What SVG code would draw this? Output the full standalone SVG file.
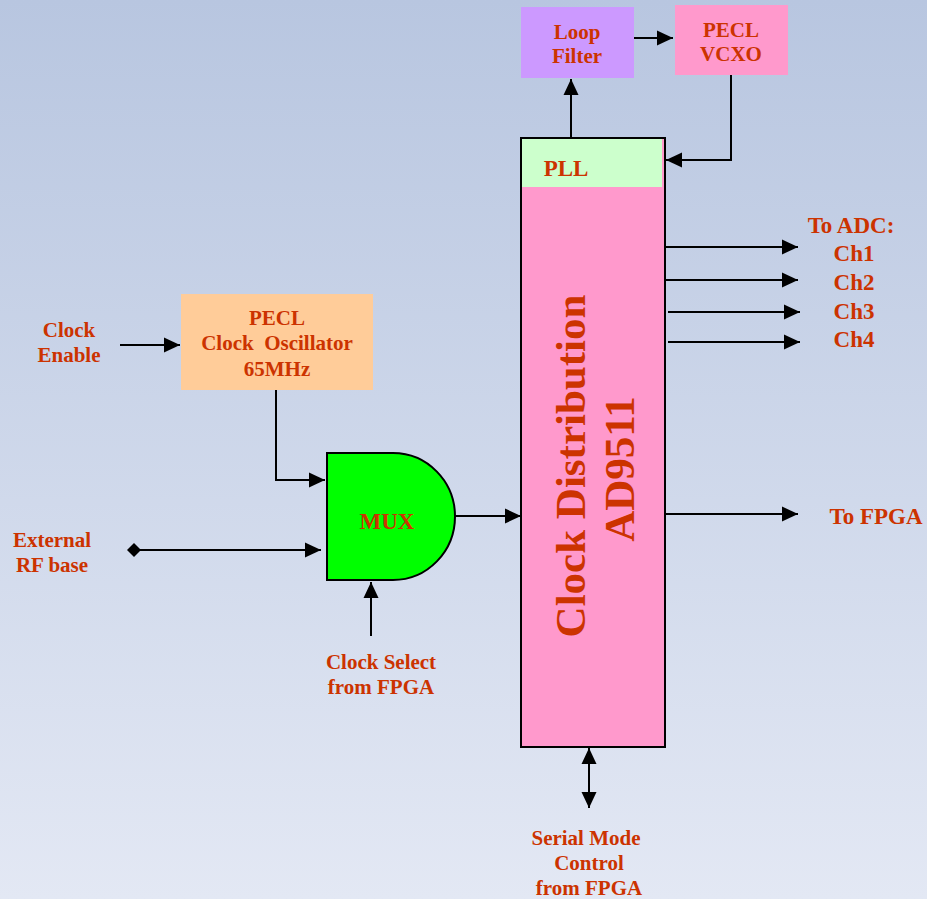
<svg xmlns="http://www.w3.org/2000/svg" width="927" height="899" viewBox="0 0 927 899">
<defs>
<linearGradient id="bg" x1="0" y1="0" x2="0" y2="1">
<stop offset="0" stop-color="#b8c6e0"/>
<stop offset="1" stop-color="#e3e8f4"/>
</linearGradient>
<marker id="ah" markerWidth="17" markerHeight="16" refX="16" refY="8" orient="auto" markerUnits="userSpaceOnUse">
<path d="M0,0.5 L16,8 L0,15.5 Z" fill="#000"/>
</marker>
<marker id="ahs" markerWidth="17" markerHeight="16" refX="1" refY="8" orient="auto" markerUnits="userSpaceOnUse">
<path d="M17,0.5 L1,8 L17,15.5 Z" fill="#000"/>
</marker>
<marker id="dia" markerWidth="14" markerHeight="14" refX="7" refY="7" orient="auto" markerUnits="userSpaceOnUse">
<path d="M0,7 L7,0 L14,7 L7,14 Z" fill="#000"/>
</marker>
</defs>
<style>
text{font-family:"Liberation Serif","Times New Roman",serif;font-weight:bold;fill:#cc3300;text-anchor:middle}
.t19{font-size:21px}
.t20{font-size:23px}
.big{font-size:43px}
.c{stroke:#000;stroke-width:2;fill:none}
.a{marker-end:url(#ah)}
</style>
<rect width="927" height="899" fill="url(#bg)"/>

<g id="connectors">
<path class="c a" d="M634,38 H673"/>
<path class="c a" d="M571,138 V79"/>
<path class="c a" d="M731,75 V160 H666"/>
<path class="c a" d="M120,345 H180"/>
<path class="c a" d="M276,390 V480 H325"/>
<path class="c a" d="M134,550 H321" style="marker-start:url(#dia)"/>
<path class="c a" d="M371,636 V582"/>
<path class="c a" d="M455,516 H521"/>
<path class="c a" d="M665,247 H798"/>
<path class="c a" d="M665,280 H798"/>
<path class="c a" d="M668,312 H800"/>
<path class="c a" d="M668,342 H800"/>
<path class="c a" d="M665,514 H798"/>
<path class="c a" d="M589,748 V808" style="marker-start:url(#ahs)"/>
</g>

<g id="loop-filter">
<rect x="521" y="7" width="113" height="71" fill="#cc99ff"/>
<text class="t19" x="577" y="39">Loop</text>
<text class="t19" x="577" y="63">Filter</text>
</g>

<g id="pecl-vcxo">
<rect x="675" y="5" width="113" height="70" fill="#ff99cc"/>
<text class="t19" x="731" y="37">PECL</text>
<text class="t19" x="731" y="61">VCXO</text>
</g>

<g id="clock-distribution">
<rect x="521" y="138" width="144" height="609" fill="#ff99cc" stroke="#000" stroke-width="2"/>
<rect x="522" y="139" width="140" height="48" fill="#ccffcc"/>
<text class="t20" x="566" y="176">PLL</text>
<text class="big" transform="translate(585,466) rotate(-90)">Clock Distribution</text>
<text class="big" transform="translate(634,469) rotate(-90)">AD9511</text>
</g>

<g id="pecl-oscillator">
<rect x="181" y="294" width="192" height="96" fill="#ffcc99"/>
<text class="t19" x="277" y="325">PECL</text>
<text class="t19" x="277" y="350" xml:space="preserve">Clock  Oscillator</text>
<text class="t19" x="277" y="376">65MHz</text>
</g>

<g id="mux">
<path d="M327,453 H393 A62,63.5 0 0 1 393,580 H327 Z" fill="#00ff00" stroke="#000" stroke-width="2"/>
<text class="t20" x="387" y="529">MUX</text>
</g>

<g id="labels">
<text class="t19" x="69" y="337">Clock</text>
<text class="t19" x="69" y="362">Enable</text>
<text class="t19" x="52" y="547">External</text>
<text class="t19" x="52" y="572">RF base</text>
<text class="t19" x="381" y="669">Clock Select</text>
<text class="t19" x="381" y="694">from FPGA</text>
<text class="t20" x="851" y="233">To ADC:</text>
<text class="t20" x="854" y="261">Ch1</text>
<text class="t20" x="854" y="290">Ch2</text>
<text class="t20" x="854" y="319">Ch3</text>
<text class="t20" x="854" y="347">Ch4</text>
<text class="t20" x="876" y="524">To FPGA</text>
<text class="t19" x="586" y="845">Serial Mode</text>
<text class="t19" x="589" y="870">Control</text>
<text class="t19" x="589" y="895">from FPGA</text>
</g>
</svg>
